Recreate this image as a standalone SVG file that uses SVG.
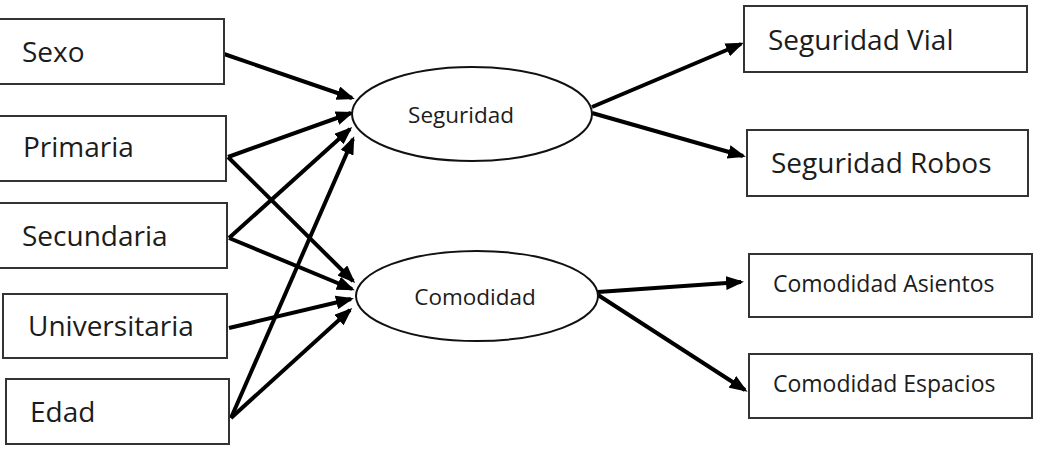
<svg xmlns="http://www.w3.org/2000/svg" width="1044" height="460" viewBox="0 0 1044 460">
<style>
.box{fill:#fff;stroke:#333;stroke-width:2}
.ell{fill:#fff;stroke:#111;stroke-width:2}
.t{font-family:"Open Sans","Noto Sans",sans-serif;fill:#1c1c1c}
.big{font-size:28px}
.mid{font-size:22.5px}
.sm{font-size:23px}
.c line{stroke:#000;stroke-width:4}
</style>
<defs>
<marker id="ah" markerUnits="userSpaceOnUse" markerWidth="18" markerHeight="14" viewBox="0 0 18 14" refX="15" refY="7" orient="auto">
<path d="M0,0 L18,7 L0,14 z" fill="#000"/>
</marker>
</defs>
<rect width="1044" height="460" fill="#fff"/>
<g class="c">
<line x1="224" y1="54" x2="352" y2="98" marker-end="url(#ah)"/>
<line x1="228" y1="157" x2="351" y2="113" marker-end="url(#ah)"/>
<line x1="228" y1="157" x2="353" y2="281" marker-end="url(#ah)"/>
<line x1="229" y1="238" x2="350" y2="129" marker-end="url(#ah)"/>
<line x1="229" y1="238" x2="352" y2="289" marker-end="url(#ah)"/>
<line x1="229" y1="328" x2="351" y2="299" marker-end="url(#ah)"/>
<line x1="231" y1="418" x2="353" y2="139" marker-end="url(#ah)"/>
<line x1="231" y1="418" x2="350" y2="310" marker-end="url(#ah)"/>
<line x1="592" y1="107" x2="741" y2="44" marker-end="url(#ah)"/>
<line x1="592" y1="113" x2="743" y2="156" marker-end="url(#ah)"/>
<line x1="598" y1="292" x2="741" y2="282" marker-end="url(#ah)"/>
<line x1="598" y1="295" x2="745" y2="390" marker-end="url(#ah)"/>
</g>
<g id="sexo"><rect class="box" x="-1" y="19" width="225" height="65"/><text class="t big" x="22" y="62">Sexo</text></g>
<g id="primaria"><rect class="box" x="-1" y="116" width="227" height="65"/><text class="t big" x="23" y="157">Primaria</text></g>
<g id="secundaria"><rect class="box" x="-1" y="203" width="228" height="65"/><text class="t big" x="22" y="246">Secundaria</text></g>
<g id="universitaria"><rect class="box" x="3" y="294" width="224" height="64"/><text class="t big" x="28" y="336">Universitaria</text></g>
<g id="edad"><rect class="box" x="6" y="379" width="223" height="65"/><text class="t big" x="30" y="422">Edad</text></g>
<g id="seguridad"><ellipse class="ell" cx="472" cy="114" rx="120" ry="47"/><text class="t mid" x="461" y="123" text-anchor="middle">Seguridad</text></g>
<g id="comodidad"><ellipse class="ell" cx="477" cy="296" rx="121" ry="45"/><text class="t mid" x="475" y="305" text-anchor="middle">Comodidad</text></g>
<g id="seguridad-vial"><rect class="box" x="744" y="6" width="283" height="66"/><text class="t big" x="768" y="50">Seguridad Vial</text></g>
<g id="seguridad-robos"><rect class="box" x="747" y="130" width="281" height="66"/><text class="t big" x="771" y="173">Seguridad Robos</text></g>
<g id="comodidad-asientos"><rect class="box" x="749" y="254" width="283" height="63"/><text class="t sm" x="773" y="292">Comodidad Asientos</text></g>
<g id="comodidad-espacios"><rect class="box" x="749" y="354" width="283" height="64"/><text class="t sm" x="773" y="392">Comodidad Espacios</text></g>
</svg>
